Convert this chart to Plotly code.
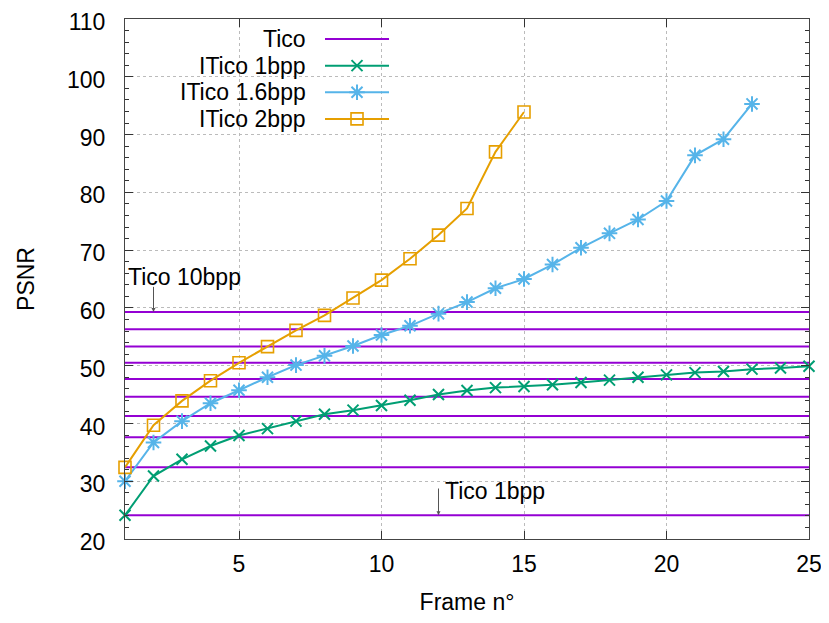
import plotly.graph_objects as go

# ---------------- data ----------------
frames_1bpp = list(range(1, 26))
psnr_1bpp = [24.1, 30.9, 33.8, 36.1, 37.9, 39.1, 40.4, 41.6, 42.3, 43.1,
             44.0, 45.0, 45.7, 46.2, 46.4, 46.7, 47.1, 47.5, 48.0, 48.4,
             48.8, 49.0, 49.4, 49.6, 49.9]

frames_16bpp = list(range(1, 24))
psnr_16bpp = [30.0, 36.7, 40.4, 43.5, 45.75, 48.0, 50.1, 51.7, 53.4, 55.3,
              56.9, 59.0, 61.0, 63.4, 65.0, 67.5, 70.4, 72.9, 75.3, 78.5,
              86.4, 89.2, 95.3]

frames_2bpp = list(range(1, 16))
psnr_2bpp = [32.4, 39.7, 43.9, 47.4, 50.5, 53.3, 56.1, 58.7, 61.7, 64.8,
             68.5, 72.6, 77.2, 87.0, 93.9]

# Tico reference levels (1bpp ... 10bpp), constant over all frames
tico_psnr = [24.1, 32.4, 37.6, 41.3, 44.6, 47.7, 50.5, 53.3, 56.3, 59.3]
tico_frames = [1, 25]

x_ticks = [5, 10, 15, 20, 25]
y_ticks = list(range(20, 111, 10))

series_names = ["Tico", "ITico 1bpp", "ITico 1.6bpp", "ITico 2bpp"]

# ---------------- style ----------------
PURPLE = "#9400D3"
GREEN = "#009E73"
BLUE = "#56B4E9"
ORANGE = "#E69F00"
FONT = "Liberation Sans, Arial, Helvetica, sans-serif"
FS = 23

styles = {
    "ITico 1bpp": dict(color=GREEN, symbol="x-thin", size=11, lw=2),
    "ITico 1.6bpp": dict(color=BLUE, symbol="asterisk", size=13, lw=2),
    "ITico 2bpp": dict(color=ORANGE, symbol="square-open", size=12, lw=1.6),
}

fig = go.Figure()

# Tico horizontal lines
tx, ty = [], []
for v in tico_psnr:
    tx += [tico_frames[0], tico_frames[1], None]
    ty += [v, v, None]
fig.add_trace(go.Scatter(x=tx, y=ty, mode="lines", name="Tico",
                         line=dict(color=PURPLE, width=2), showlegend=False))

for name, xs, ys in [("ITico 1bpp", frames_1bpp, psnr_1bpp),
                     ("ITico 1.6bpp", frames_16bpp, psnr_16bpp),
                     ("ITico 2bpp", frames_2bpp, psnr_2bpp)]:
    s = styles[name]
    fig.add_trace(go.Scatter(
        x=xs, y=ys, mode="lines+markers", name=name, showlegend=False,
        cliponaxis=False,
        line=dict(color=s["color"], width=2),
        marker=dict(symbol=s["symbol"], size=s["size"], color=s["color"],
                    line=dict(color=s["color"], width=s["lw"]))))

# ---------------- custom legend (gnuplot style: text, then sample) ----------
LEG_TEXT_X = 0.2675
LEG_LINE_X = (0.2924, 0.386)
LEG_Y0 = 0.9615
LEG_DY = 0.0512
for i, name in enumerate(series_names):
    yr = LEG_Y0 - i * LEG_DY
    fig.add_annotation(x=LEG_TEXT_X, y=yr, xref="paper", yref="paper",
                       text=name, showarrow=False, xanchor="right",
                       yanchor="middle", font=dict(family=FONT, size=FS, color="black"))
    color = PURPLE if name == "Tico" else styles[name]["color"]
    fig.add_trace(go.Scatter(x=list(LEG_LINE_X), y=[yr, yr], mode="lines",
                             xaxis="x2", yaxis="y2", showlegend=False,
                             hoverinfo="skip", line=dict(color=color, width=2)))
    if name != "Tico":
        s = styles[name]
        fig.add_trace(go.Scatter(x=[sum(LEG_LINE_X) / 2], y=[yr], mode="markers",
                                 xaxis="x2", yaxis="y2", showlegend=False,
                                 hoverinfo="skip", cliponaxis=False,
                                 marker=dict(symbol=s["symbol"], size=s["size"],
                                             color=s["color"],
                                             line=dict(color=s["color"], width=s["lw"]))))

# ---------------- labels with arrows ----------------
ARROW_C = "#555555"
fig.add_annotation(x=2, y=tico_psnr[-1], ax=2, ay=63.9, xref="x", yref="y",
                   axref="x", ayref="y", text="", showarrow=True,
                   arrowhead=2, arrowsize=0.8, arrowwidth=1, arrowcolor=ARROW_C)
fig.add_annotation(x=1.03, y=65.3, xref="x", yref="y", text="Tico 10bpp",
                   showarrow=False, xanchor="left", yanchor="middle",
                   font=dict(family=FONT, size=FS, color="black"))
fig.add_annotation(x=12, y=tico_psnr[0], ax=12, ay=29.0, xref="x", yref="y",
                   axref="x", ayref="y", text="", showarrow=True,
                   arrowhead=2, arrowsize=0.8, arrowwidth=1, arrowcolor=ARROW_C)
fig.add_annotation(x=12.16, y=28.25, xref="x", yref="y", text="Tico 1bpp",
                   showarrow=False, xanchor="left", yanchor="middle",
                   font=dict(family=FONT, size=FS, color="black"))

axis_common = dict(
    ticks="inside", tickcolor="#333333", showline=True, linecolor="#444444",
    linewidth=1, mirror="allticks", showgrid=True, gridcolor="#bbbbbb",
    griddash="dot", gridwidth=1, zeroline=False, automargin=False,
    ticklabeloverflow="allow",
    tickfont=dict(family=FONT, size=FS, color="black"),
)

# the page body has an 8px default margin: size the figure so that the
# plot area lands where the reference has it inside the 829x623 window
fig.update_layout(
    width=821, height=615,
    margin=dict(l=117, r=20, t=11, b=84),
    paper_bgcolor="white", plot_bgcolor="white",
    font=dict(family=FONT, size=FS, color="black"),
    xaxis=dict(range=[1, 25], tickvals=x_ticks, ticklen=8,
               ticklabelstandoff=4,
               title=dict(text="Frame n°", standoff=18,
                          font=dict(family=FONT, size=FS)),
               **axis_common),
    yaxis=dict(range=[20, 110], tickvals=y_ticks, ticklen=8,
               ticklabelstandoff=14, ticklabelshift=3,
               minor=dict(dtick=2, ticks="inside", ticklen=4,
                          tickcolor="#333333", showgrid=False),
               title=dict(text="PSNR", standoff=25,
                          font=dict(family=FONT, size=FS)),
               **axis_common),
    xaxis2=dict(overlaying="x", range=[0, 1], visible=False),
    yaxis2=dict(overlaying="y", range=[0, 1], visible=False),
    showlegend=False,
)

fig.write_html("out.html")
